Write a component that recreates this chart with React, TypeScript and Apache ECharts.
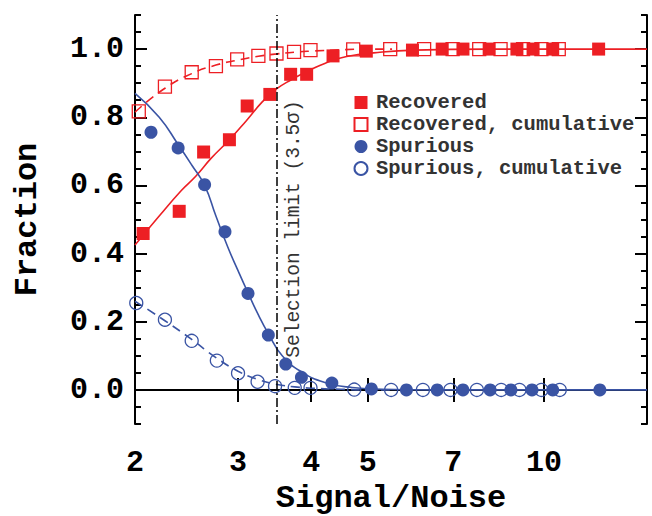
import React, { useEffect, useRef } from "react";
import * as echarts from "echarts";

const RED = "#ED1F24";
const BLUE = "#3A54A4";
const MONO = "'Liberation Mono', 'Courier New', monospace";

// Tick labels
const xTicks = [2, 3, 4, 5, 7, 10];
const yTicks = [0, 0.2, 0.4, 0.6, 0.8, 1.0];

// Recovered (filled squares)
const recX = [2.065, 2.38, 2.62, 2.9, 3.11, 3.4, 3.69, 3.93, 4.36, 4.97, 5.96, 6.7, 7.27, 8.06, 8.99, 9.58, 10.35, 12.4];
const recY = [0.459, 0.524, 0.698, 0.734, 0.833, 0.867, 0.926, 0.926, 0.98, 0.994, 0.997, 1.0, 1.0, 1.0, 1.0, 1.0, 1.0, 1.0];

// Recovered, cumulative (open squares)
const recCumX = [2.03, 2.25, 2.5, 2.75, 2.99, 3.25, 3.49, 3.74, 3.99, 4.72, 5.46, 6.24, 6.98, 7.75, 8.43, 9.21, 9.9, 10.6];
const recCumY = [0.817, 0.89, 0.932, 0.95, 0.97, 0.98, 0.987, 0.992, 0.997, 0.999, 1, 1, 1, 1, 1, 1, 1, 1];

// Spurious (filled circles)
const spuX = [2.13, 2.37, 2.63, 2.85, 3.12, 3.38, 3.62, 3.85, 4.34, 5.07, 5.82, 6.57, 7.27, 8.09, 8.78, 9.54, 10.35, 12.46];
const spuY = [0.756, 0.71, 0.602, 0.464, 0.283, 0.161, 0.076, 0.037, 0.02, 0.003, 0, 0, 0, 0, 0, 0, 0, 0];

// Spurious, cumulative (open circles)
const spuCumX = [2.01, 2.25, 2.5, 2.76, 3.0, 3.24, 3.47, 3.75, 3.99, 4.74, 5.48, 6.21, 6.92, 7.68, 8.45, 9.08, 9.9, 10.64];
const spuCumY = [0.255, 0.206, 0.144, 0.086, 0.049, 0.024, 0.011, 0.006, 0.006, 0.001, 0, 0, 0, 0, 0, 0, 0, 0];

// Fitted curves
const recFitX = [2.0, 2.2, 2.4, 2.54, 2.7, 2.9, 3.1, 3.3, 3.47, 3.7, 4.0, 4.22, 4.6, 5.2, 6.0, 8.0, 15];
const recFitY = [0.425, 0.51, 0.585, 0.627, 0.68, 0.734, 0.79, 0.845, 0.88, 0.91, 0.94, 0.958, 0.978, 0.99, 0.997, 1.0, 1.0];

const spuFitX = [2.0, 2.2, 2.37, 2.5, 2.63, 2.75, 2.88, 3.0, 3.12, 3.25, 3.38, 3.57, 3.86, 4.22, 4.7, 5.3, 6.5, 15];
const spuFitY = [0.87, 0.8, 0.72, 0.66, 0.6, 0.51, 0.42, 0.35, 0.285, 0.22, 0.165, 0.1, 0.052, 0.022, 0.007, 0.002, 0, 0];

const recCumFitX = [2.0, 2.25, 2.5, 2.75, 3.0, 3.25, 3.5, 3.75, 4.0, 4.5, 5.0, 5.5];
const recCumFitY = [0.815, 0.885, 0.928, 0.953, 0.968, 0.979, 0.986, 0.991, 0.994, 0.998, 1.0, 1.0];

const spuCumFitX = [2.0, 2.25, 2.5, 2.75, 3.0, 3.25, 3.5, 3.75, 4.0, 4.5, 5.0, 5.5];
const spuCumFitY = [0.26, 0.203, 0.148, 0.095, 0.055, 0.03, 0.016, 0.009, 0.005, 0.002, 0.0, 0.0];

const selectionLimit = 3.5;

const zip = (xs: number[], ys: number[]) => xs.map((x, i) => [x, ys[i]]);

const SQUARE = "path://M0 0H10V10H0Z";

export default function App() {
  const ref = useRef<HTMLDivElement>(null);
  useEffect(() => {
    document.body.style.margin = "0";
    const chart = echarts.init(ref.current!, null, { renderer: "svg" });
    const labelFont = { fontFamily: MONO, fontWeight: "bold" as const, fontSize: 30, color: "#000" };
    const nameFont = { fontFamily: MONO, fontWeight: "bold" as const, fontSize: 32, color: "#000" };
    const axisLine = { show: true, lineStyle: { color: "#000", width: 2 } };
    const majorTick = { show: true, inside: true, length: 12, lineStyle: { color: "#000", width: 2 } };
    const minorTickAxis = (position: string) => ({
      type: "value", min: -0.1, max: 1.1, interval: 0.05, position,
      axisLine: { show: false },
      axisTick: { show: true, inside: true, length: 6, lineStyle: { color: "#000", width: 2 } },
      axisLabel: { show: false }, splitLine: { show: false },
    });
    chart.setOption({
      animation: false,
      backgroundColor: "#fff",
      grid: { left: 135, right: 5, top: 15, bottom: 92, outerBoundsMode: "none" },
      xAxis: [
        {
          type: "log", logBase: 10, min: 2, max: 15, position: "bottom",
          axisLine,
          axisTick: { ...majorTick, customValues: xTicks },
          axisLabel: { ...labelFont, margin: 24, customValues: xTicks, formatter: (v: number) => String(Math.round(v)) },
          splitLine: { show: false }, minorTick: { show: false }, minorSplitLine: { show: false },
          name: "Signal/Noise", nameLocation: "middle", nameGap: 58, nameTextStyle: nameFont,
        },
        {
          type: "log", logBase: 10, min: 2, max: 15, position: "top",
          axisLine,
          axisTick: { ...majorTick, customValues: xTicks },
          axisLabel: { show: false }, splitLine: { show: false },
        },
      ],
      yAxis: [
        {
          type: "value", min: -0.1, max: 1.1, interval: 0.1, position: "left",
          axisLine,
          axisTick: { ...majorTick, customValues: yTicks },
          axisLabel: { ...labelFont, margin: 11, customValues: yTicks, formatter: (v: number) => v.toFixed(1) },
          splitLine: { show: false },
          name: "Fraction", nameLocation: "middle", nameGap: 92, nameTextStyle: nameFont,
        },
        {
          type: "value", min: -0.1, max: 1.1, interval: 0.1, position: "right",
          axisLine,
          axisTick: { ...majorTick, customValues: yTicks },
          axisLabel: { show: false }, splitLine: { show: false },
        },
        minorTickAxis("left"),
        minorTickAxis("right"),
      ],
      legend: {
        orient: "vertical", left: 347, top: 87, itemWidth: 20, itemHeight: 13, itemGap: 1,
        symbolKeepAspect: true,
        textStyle: { fontFamily: MONO, fontWeight: "bold", fontSize: 20.5, color: "#333" },
        data: [
          { name: "Recovered", icon: SQUARE },
          { name: "Recovered, cumulative", icon: SQUARE },
          { name: "Spurious", icon: "circle" },
          { name: "Spurious, cumulative", icon: "circle" },
        ],
      },
      graphic: [
        {
          type: "text", x: 294, y: 229, rotation: Math.PI / 2,
          style: {
            text: "Selection limit (3.5σ)", fontFamily: MONO, fontSize: 19.5, fill: "#333",
            align: "center", verticalAlign: "middle",
          },
        },
      ],
      series: [
        {
          name: "recFit", type: "line", smooth: true, symbol: "none", data: zip(recFitX, recFitY),
          lineStyle: { color: RED, width: 1.6 }, silent: true, z: 2,
          markLine: {
            silent: true, symbol: "none", label: { show: false },
            lineStyle: { color: "#000", width: 1.5, type: [9, 3, 2, 3] },
            data: [{ xAxis: selectionLimit }],
          },
        },
        {
          name: "spuFit", type: "line", smooth: true, symbol: "none", data: zip(spuFitX, spuFitY),
          lineStyle: { color: BLUE, width: 1.6 }, silent: true, z: 2,
        },
        {
          name: "recCumFit", type: "line", smooth: true, symbol: "none", data: zip(recCumFitX, recCumFitY),
          lineStyle: { color: RED, width: 1.6, type: [9, 6] }, silent: true, z: 2,
        },
        {
          name: "spuCumFit", type: "line", smooth: true, symbol: "none", data: zip(spuCumFitX, spuCumFitY),
          lineStyle: { color: BLUE, width: 1.6, type: [9, 6] }, silent: true, z: 2,
        },
        {
          name: "Recovered", type: "scatter", symbol: SQUARE, symbolSize: 13, data: zip(recX, recY),
          itemStyle: { color: RED, opacity: 1 }, z: 3,
        },
        {
          name: "Recovered, cumulative", type: "scatter", symbol: SQUARE, symbolSize: 13, data: zip(recCumX, recCumY),
          itemStyle: { color: "none", borderColor: RED, borderWidth: 1.3, opacity: 1 }, z: 3,
        },
        {
          name: "Spurious", type: "scatter", symbol: "circle", symbolSize: 13, data: zip(spuX, spuY),
          itemStyle: { color: BLUE, opacity: 1 }, z: 3,
        },
        {
          name: "Spurious, cumulative", type: "scatter", symbol: "circle", symbolSize: 13, data: zip(spuCumX, spuCumY),
          itemStyle: { color: "none", borderColor: BLUE, borderWidth: 1.3, opacity: 1 }, z: 3,
        },
      ],
    });
    return () => chart.dispose();
  }, []);
  return <div ref={ref} style={{ width: 652, height: 516 }} />;
}
